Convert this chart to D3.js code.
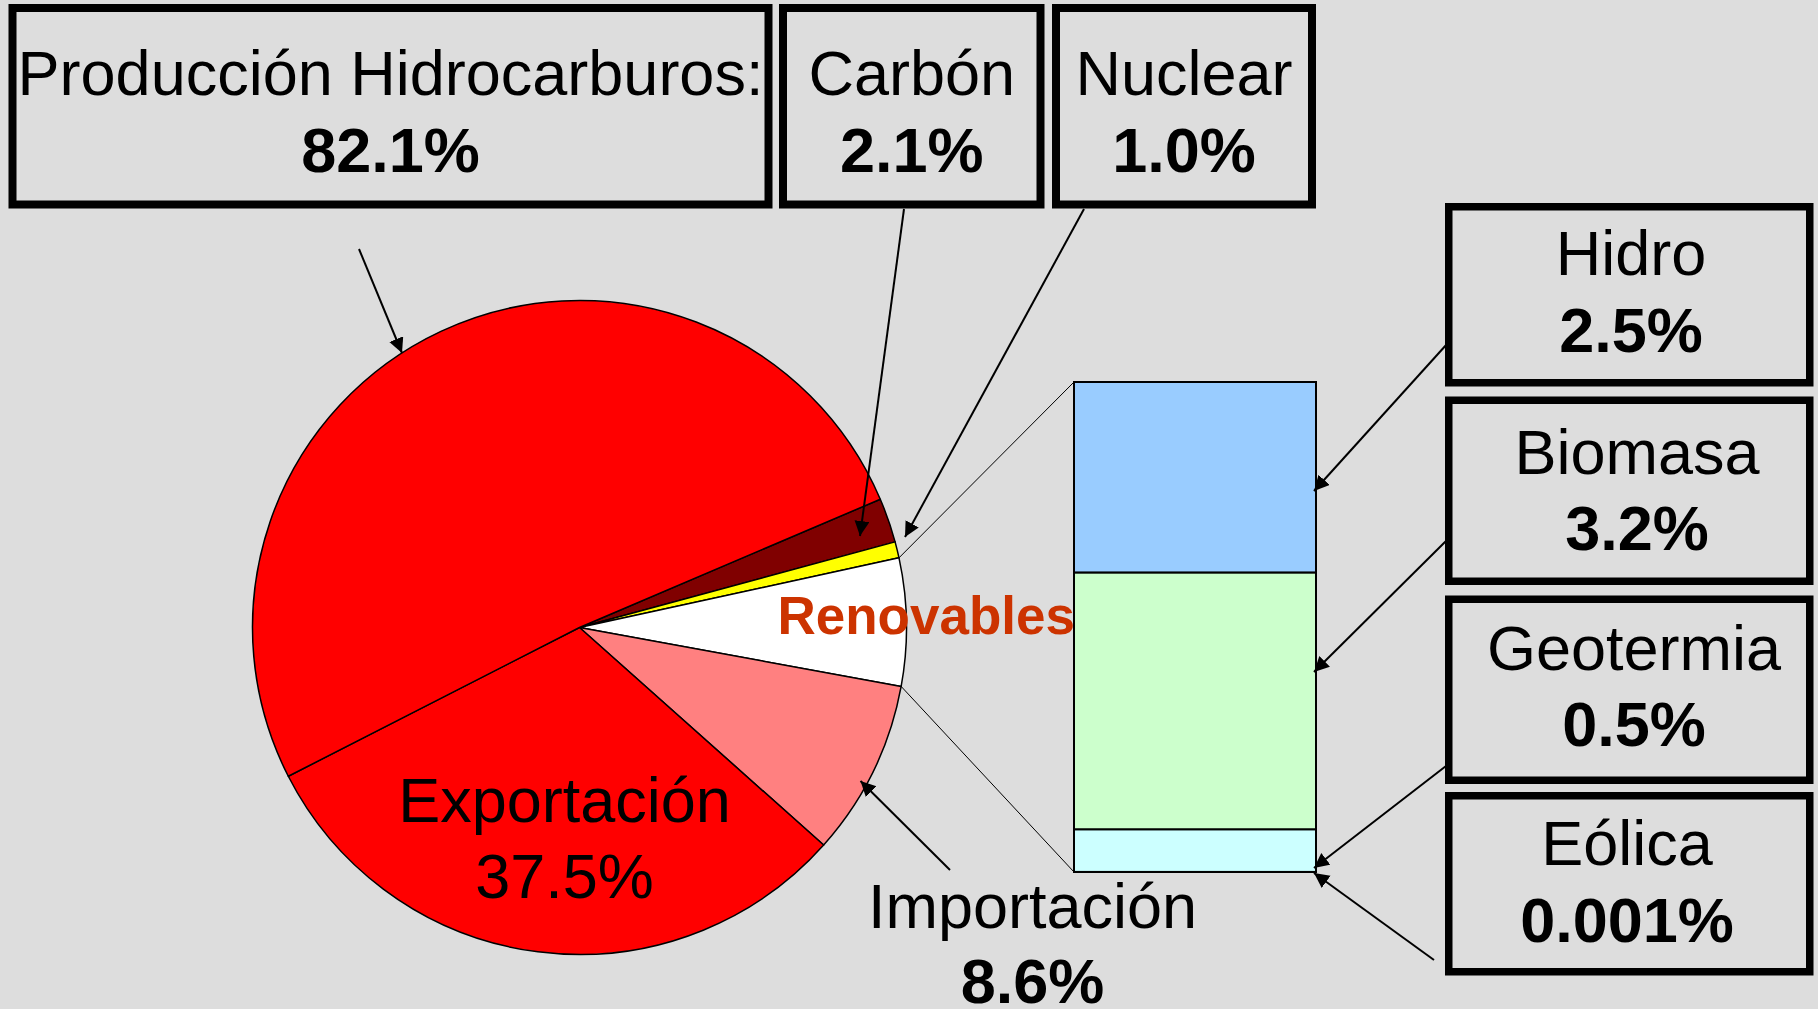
<!DOCTYPE html>
<html>
<head>
<meta charset="utf-8">
<script src="https://cdn.jsdelivr.net/npm/d3@7"></script>
<style>
  body { margin: 0; background: #dddddd; }
  svg { display: block; }
</style>
</head>
<body>
<div id="chart"></div>
<script>
// Datos del pastel (porcentaje de cada porción)
const pieLabels = ["Carbón", "Nuclear", "Renovables", "Importación", "Exportación", "Producción Hidrocarburos"];
const pieValues = [2.2, 0.8, 6.3, 8.7, 30.9, 51.1];
const pieColors = ["#800000", "#ffff00", "#ffffff", "#ff8080", "#ff0000", "#ff0000"];

// Barra apilada de renovables
const renovLabels = ["Hidro", "Biomasa", "Geotermia", "Eólica"];
const renovValues = [2.41, 3.25, 0.54, 0.001];
const renovColors = ["#99ccff", "#ccffcc", "#ccffff", "#ccffff"];
const renovPct = ["2.5%", "3.2%", "0.5%", "0.001%"];

// Textos de las cajas superiores
const topLabels = ["Producción Hidrocarburos:", "Carbón", "Nuclear"];
const topPct = ["82.1%", "2.1%", "1.0%"];

const W = 1818, H = 1009;
const font = "'Liberation Sans', Arial, Helvetica, sans-serif";

const svg = d3.select("#chart").append("svg")
  .attr("width", W)
  .attr("height", H);

svg.append("rect").attr("width", W).attr("height", H).attr("fill", "#dddddd");

// marcador de flecha
svg.append("defs").append("marker")
  .attr("id", "arrow")
  .attr("markerUnits", "userSpaceOnUse")
  .attr("markerWidth", 16).attr("markerHeight", 16)
  .attr("refX", 15).attr("refY", 7.5)
  .attr("orient", "auto")
  .append("path")
  .attr("d", "M0,0 L15,7.5 L0,15 Z")
  .attr("fill", "black");

// ---- Pastel ----
const cx = 579.5, cy = 627.5, R = 327;
const startDeg = 66.9;

const pie = d3.pie().sort(null)
  .startAngle(startDeg * Math.PI / 180)
  .endAngle(startDeg * Math.PI / 180 + 2 * Math.PI);
const arcs = pie(pieValues);
const arc = d3.arc().innerRadius(0).outerRadius(R);

const pieG = svg.append("g").attr("transform", `translate(${cx},${cy})`);
pieG.selectAll("path")
  .data(arcs)
  .enter()
  .append("path")
  .attr("d", arc)
  .attr("fill", (d, i) => pieColors[i])
  .attr("stroke", "black")
  .attr("stroke-width", 1.5)
  .attr("stroke-linejoin", "round");

// punto sobre el borde del pastel para un ángulo dado
function edge(a) {
  return [cx + R * Math.sin(a), cy - R * Math.cos(a)];
}

// ---- Barra de renovables ----
const barX0 = 1074, barX1 = 1316, barTop = 382, barBottom = 872;
const renovTotal = d3.sum(renovValues);
const y = d3.scaleLinear().domain([0, renovTotal]).range([barBottom, barTop]);

// apilado: Eólica abajo, luego Geotermia, Biomasa, Hidro arriba
const stackOrder = [3, 2, 1, 0];
let acc = 0;
const segs = stackOrder.map(i => {
  const s = { i: i, y0: acc, y1: acc + renovValues[i] };
  acc += renovValues[i];
  return s;
});

// líneas de conexión pastel -> barra
const renovArc = arcs[2];
const pTop = edge(renovArc.startAngle);
const pBot = edge(renovArc.endAngle);
svg.append("line")
  .attr("x1", pTop[0]).attr("y1", pTop[1])
  .attr("x2", barX0).attr("y2", y(renovTotal))
  .attr("stroke", "black").attr("stroke-width", 1);
svg.append("line")
  .attr("x1", pBot[0]).attr("y1", pBot[1])
  .attr("x2", barX0).attr("y2", y(0))
  .attr("stroke", "black").attr("stroke-width", 1);

svg.append("g").selectAll("rect")
  .data(segs)
  .enter()
  .append("rect")
  .attr("x", barX0)
  .attr("y", d => y(d.y1))
  .attr("width", barX1 - barX0)
  .attr("height", d => y(d.y0) - y(d.y1))
  .attr("fill", d => renovColors[d.i])
  .attr("stroke", "black")
  .attr("stroke-width", 2);

// ---- Texto "Renovables" ----
svg.append("text")
  .attr("x", 1075)
  .attr("y", 634)
  .attr("text-anchor", "end")
  .attr("font-family", font)
  .attr("font-weight", "bold")
  .attr("font-size", "53px")
  .attr("fill", "#cc3300")
  .text(pieLabels[2]);

// ---- Cajas ----
function box(x0, y0, x1, y1, b) {
  svg.append("rect")
    .attr("x", x0 + b / 2).attr("y", y0 + b / 2)
    .attr("width", x1 - x0 - b).attr("height", y1 - y0 - b)
    .attr("fill", "#dddddd")
    .attr("stroke", "black")
    .attr("stroke-width", b);
}
function twoLines(xc, yA, yB, t1, t2, bold2) {
  svg.append("text")
    .attr("x", xc).attr("y", yA)
    .attr("text-anchor", "middle")
    .attr("font-family", font)
    .attr("font-size", "63px")
    .attr("fill", "black")
    .text(t1);
  svg.append("text")
    .attr("x", xc).attr("y", yB)
    .attr("text-anchor", "middle")
    .attr("font-family", font)
    .attr("font-weight", bold2 ? "bold" : "normal")
    .attr("font-size", "63px")
    .attr("fill", "black")
    .text(t2);
}

const topBoxes = [[8.5, 772.5], [779, 1044.5], [1052, 1316]];
topBoxes.forEach((b, i) => {
  box(b[0], 4, b[1], 208.5, 8);
  twoLines((b[0] + b[1]) / 2, 95, 172, topLabels[i], topPct[i], true);
});

const rightBoxes = [[203, 386.5, 275, 352, 2], [396.5, 585, 474, 550, 8], [595.5, 784, 670, 746, 5], [792, 975.5, 865, 942, -2]];
rightBoxes.forEach((b, i) => {
  box(1445, b[0], 1813.5, b[1], 7.5);
  twoLines(1629 + b[4], b[2], b[3], renovLabels[i], renovPct[i], true);
});

// Exportación (dentro del pastel)
twoLines(564.5, 822, 898, pieLabels[4], "37.5%", false);
// Importación
twoLines(1032.5, 928, 1003, pieLabels[3], "8.6%", true);

// ---- Flechas ----
const arrows = [
  [359, 249, 402, 353],     // Producción
  [904, 209, 860, 536],     // Carbón
  [1084, 209, 905, 537],    // Nuclear
  [950, 870, 860.5, 781],   // Importación
  [1447, 344, 1314, 491],   // Hidro
  [1446, 541, 1314, 672],   // Biomasa
  [1446, 766, 1314, 868],   // Geotermia
  [1434, 960, 1314, 873]    // Eólica
];
svg.append("g").selectAll("line")
  .data(arrows)
  .enter()
  .append("line")
  .attr("x1", d => d[0]).attr("y1", d => d[1])
  .attr("x2", d => d[2]).attr("y2", d => d[3])
  .attr("stroke", "black")
  .attr("stroke-width", 2)
  .attr("marker-end", "url(#arrow)");
</script>
</body>
</html>
